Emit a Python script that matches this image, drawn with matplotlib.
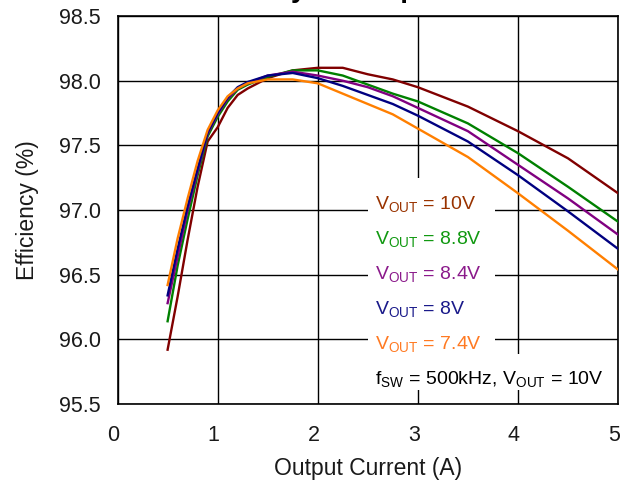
import matplotlib
matplotlib.use('Agg')
import matplotlib.pyplot as plt
import matplotlib.transforms as mtransforms
from matplotlib.patches import Rectangle

plt.rcParams['font.family'] = ['Liberation Sans', 'DejaVu Sans']
plt.rcParams['mathtext.fontset'] = 'custom'
plt.rcParams['mathtext.rm'] = 'Liberation Sans'

# output current (A)
current = [0.5, 0.6, 0.7, 0.8, 0.9, 1.0, 1.1, 1.2, 1.3, 1.5, 1.75, 2.0,
           2.25, 2.5, 2.75, 3.0, 3.5, 4.0, 4.5, 5.0]

# efficiency (%) per output voltage
eff_10v = [95.92, 96.33, 96.77, 97.18, 97.53, 97.64, 97.79, 97.89, 97.94, 98.02, 98.08, 98.10,
           98.10, 98.05, 98.01, 97.95, 97.80, 97.61, 97.40, 97.13]
eff_8v8 = [96.14, 96.57, 96.93, 97.27, 97.57, 97.72, 97.84, 97.93, 97.97, 98.03, 98.08, 98.08,
           98.04, 97.97, 97.90, 97.84, 97.67, 97.44, 97.18, 96.91]
eff_8v4 = [96.28, 96.64, 97.00, 97.30, 97.59, 97.74, 97.86, 97.94, 97.98, 98.04, 98.07, 98.04,
           98.00, 97.95, 97.88, 97.79, 97.61, 97.35, 97.09, 96.81]
eff_8v = [96.34, 96.70, 97.03, 97.32, 97.60, 97.75, 97.87, 97.95, 97.99, 98.04, 98.06, 98.02,
          97.96, 97.89, 97.82, 97.73, 97.53, 97.27, 96.99, 96.70]
eff_7v4 = [96.42, 96.78, 97.09, 97.38, 97.62, 97.77, 97.88, 97.94, 97.98, 98.01, 98.01, 97.98,
           97.90, 97.82, 97.74, 97.63, 97.41, 97.13, 96.84, 96.54]

series = [
    (eff_10v, '#800000', '#993300', '10V'),
    (eff_8v8, '#008000', '#119911', '8.8V'),
    (eff_8v4, '#800080', '#8b1a8b', '8.4V'),
    (eff_8v, '#000080', '#1a1a8a', '8V'),
    (eff_7v4, '#ff7f00', '#ff7a22', '7.4V'),
]

fig = plt.figure(figsize=(6.22, 4.87), dpi=100)
ax = fig.add_axes([0.189, 0.1704, 0.8046, 0.7966])

for vals, line_col, txt_col, vname in series:
    ax.plot(current, vals, color=line_col, linewidth=1.7, zorder=3)

ax.set_xlim(0, 5)
ax.set_ylim(95.5, 98.5)
ax.set_xticks([0, 1, 2, 3, 4, 5])
ax.set_yticks([95.5, 96.0, 96.5, 97.0, 97.5, 98.0, 98.5])
ax.set_yticklabels(['95.5', '96.0', '96.5', '97.0', '97.5', '98.0', '98.5'])
ax.tick_params(length=0, labelsize=15.5, colors='#1a1a1a')
ax.tick_params(axis='y', pad=12)
ax.tick_params(axis='x', pad=15)
# x tick labels sit a few pixels left of their gridlines
shift = mtransforms.ScaledTranslation(-4 / 100, 0, fig.dpi_scale_trans)
for lbl in ax.get_xticklabels():
    lbl.set_transform(lbl.get_transform() + shift)
ax.grid(True, color='black', linewidth=1.0)
for sp in ax.spines.values():
    sp.set_linewidth(1.2)
    sp.set_color('black')

ax.set_xlabel('Output Current (A)', fontsize=16.5, labelpad=8, color='#1a1a1a')
ax.set_ylabel('Efficiency (%)', fontsize=16.5, labelpad=14, color='#1a1a1a')

# white boxes behind the annotations
ax.add_patch(Rectangle((2.5, 95.61), 1.27, 1.64, facecolor='white', edgecolor='none', zorder=2))
ax.add_patch(Rectangle((2.45, 95.61), 2.52, 0.28, facecolor='white', edgecolor='none', zorder=2))

label_y = [97.0, 96.73, 96.46, 96.19, 95.92]
for (vals, line_col, txt_col, vname), ty in zip(series, label_y):
    ax.text(2.57, ty, r'V$_{\mathregular{OUT}}$ = ' + vname, color=txt_col,
            fontsize=14, va='baseline', ha='left', zorder=4)

ax.text(2.57, 95.65, r'f$_{\mathregular{SW}}$ = 500kHz, V$_{\mathregular{OUT}}$ = 10V',
        color='black', fontsize=14, va='baseline', ha='left', zorder=4)

# title sits mostly above the visible canvas
fig.text(0.5836, 1.006, 'Efficiency vs Output Current', fontsize=20, fontweight='bold',
         ha='center', va='baseline')

fig.savefig('out.png', dpi=100)
